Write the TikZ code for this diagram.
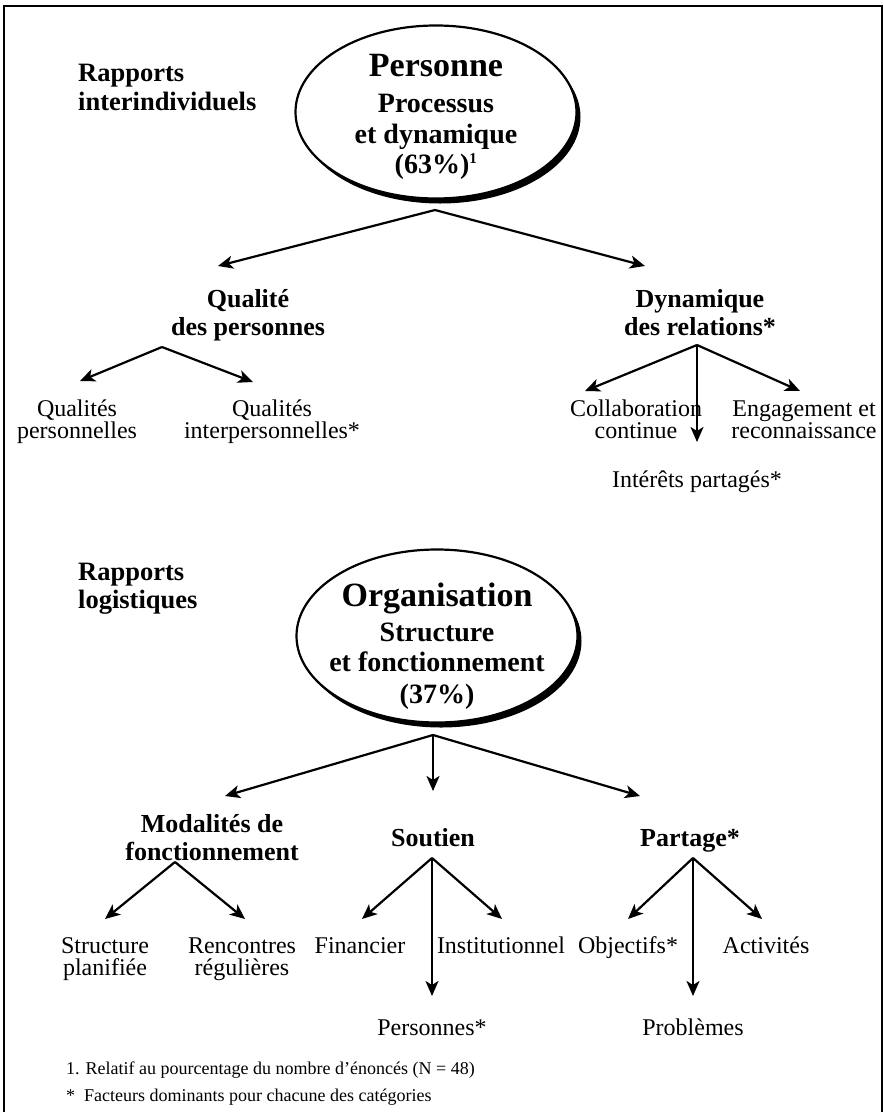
\documentclass[tikz,border=0pt]{standalone}
\usepackage{fontspec}
\setmainfont{Liberation Serif}
\usetikzlibrary{arrows.meta,shapes.geometric,shadows}
\tikzset{
  ell/.style={ellipse, draw, line width=2.2pt, fill=white, inner sep=0pt,
    minimum width=281pt, minimum height=173pt,
    drop shadow={shadow xshift=4pt, shadow yshift=-5pt, opacity=1, fill=black}},
  big/.style={anchor=base, font=\fontsize{34}{36}\selectfont\bfseries},
  mid/.style={anchor=base, font=\fontsize{28}{30}\selectfont\bfseries},
  side/.style={anchor=base west, inner sep=0pt, font=\fontsize{26.5}{28}\selectfont\bfseries},
  head/.style={anchor=base, font=\fontsize{26}{28}\selectfont\bfseries},
  lab/.style={anchor=base, font=\fontsize{24}{25}\selectfont},
  note/.style={anchor=base west, inner sep=0pt, font=\fontsize{18}{20}\selectfont},
  arr/.style={line width=2.2pt, -{Stealth[length=15pt,width=13pt,inset=4pt]}},
}
\begin{document}
\begin{tikzpicture}[x=1pt,y=-1pt]
\useasboundingbox (0,0) rectangle (884,1112);
\draw[line width=1.4pt] (4,1125) -- (4,6) -- (882,6) -- (882,1125);

% ---------- top part ----------
\node[side] (r1a) at (78,81) {Rapports};
\node[side] (r1b) at (78,110) {interindividuels};

\node[ell] (e1) at (436,112) {};
\node[big] (t1a) at (436,76) {Personne};
\node[mid] (t1b) at (436,112) {Processus};
\node[mid] (t1c) at (436,143) {et dynamique};
\node[mid] (t1d) at (436,173) {(63\%)\textsuperscript{\fontsize{15}{15}\selectfont 1}};

\coordinate (a1) at (435,210);
\coordinate (a1l) at (218,266);
\coordinate (a1r) at (645,266);
\draw[arr] (a1) -- (a1l);
\draw[arr] (a1) -- (a1r);

\node[head] (q1) at (248,307) {Qualité};
\node[head] (q2) at (248,335) {des personnes};
\node[head] (d1) at (700,307) {Dynamique};
\node[head] (d2) at (700,335) {des relations*};

\coordinate (aq) at (162,347);
\coordinate (aql) at (80,381);
\coordinate (aqr) at (253,382);
\draw[arr] (aq) -- (aql);
\draw[arr] (aq) -- (aqr);

\node[lab] (qp1) at (77,416) {Qualités};
\node[lab] (qp2) at (77,438) {personnelles};
\node[lab] (qi1) at (272,416) {Qualités};
\node[lab] (qi2) at (272,438) {interpersonnelles*};

\coordinate (ad) at (697,345);
\coordinate (adl) at (585,391);
\coordinate (add) at (697,442);
\coordinate (adr) at (800,391);
\draw[arr] (ad) -- (adl);
\draw[arr] (ad) -- (add);
\draw[arr] (ad) -- (adr);

\node[lab] (c1) at (636,416) {Collaboration};
\node[lab] (c2) at (636,438) {continue};
\node[lab] (g1) at (804,416) {Engagement et};
\node[lab] (g2) at (804,438) {reconnaissance};
\node[lab] (ip) at (697,487) {Intérêts partagés*};

% ---------- bottom part ----------
\node[side] (r2a) at (78,580) {Rapports};
\node[side] (r2b) at (78,608) {logistiques};

\node[ell] (e2) at (437,636) {};
\node[big] (t2a) at (437,606) {Organisation};
\node[mid] (t2b) at (437,641) {Structure};
\node[mid] (t2c) at (437,671) {et fonctionnement};
\node[mid] (t2d) at (437,703) {(37\%)};

\coordinate (a2) at (433,735);
\coordinate (a2l) at (225,796);
\coordinate (a2d) at (433,791);
\coordinate (a2r) at (640,796);
\draw[arr] (a2) -- (a2l);
\draw[arr] (a2) -- (a2d);
\draw[arr] (a2) -- (a2r);

\node[head] (m1) at (212,832) {Modalités de};
\node[head] (m2) at (212,860) {fonctionnement};
\node[head] (so) at (433,846) {Soutien};
\node[head] (pa) at (690,846) {Partage*};

\coordinate (am) at (175,862);
\coordinate (aml) at (105,919);
\coordinate (amr) at (245,919);
\draw[arr] (am) -- (aml);
\draw[arr] (am) -- (amr);

\coordinate (as) at (432,858);
\coordinate (asl) at (362,919);
\coordinate (asd) at (432,996);
\coordinate (asr) at (502,919);
\draw[arr] (as) -- (asl);
\draw[arr] (as) -- (asd);
\draw[arr] (as) -- (asr);

\coordinate (ap) at (693,858);
\coordinate (apl) at (628,919);
\coordinate (apd) at (693,996);
\coordinate (apr) at (762,919);
\draw[arr] (ap) -- (apl);
\draw[arr] (ap) -- (apd);
\draw[arr] (ap) -- (apr);

\node[lab] (s1) at (105,953) {Structure};
\node[lab] (s2) at (105,975) {planifiée};
\node[lab] (rr1) at (242,953) {Rencontres};
\node[lab] (rr2) at (242,975) {régulières};
\node[lab] (fi) at (360,953) {Financier};
\node[lab] (in) at (501,953) {Institutionnel};
\node[lab] (pe) at (432,1035) {Personnes*};
\node[lab] (ob) at (628,953) {Objectifs*};
\node[lab] (ac) at (766,953) {Activités};
\node[lab] (pr) at (693,1035) {Problèmes};

\node[note] (n1) at (66,1074) {1. Relatif au pourcentage du nombre d’énoncés (N = 48)};
\node[note] (n2) at (66,1101) {*\hspace{9pt}Facteurs dominants pour chacune des catégories};
\end{tikzpicture}
\end{document}
